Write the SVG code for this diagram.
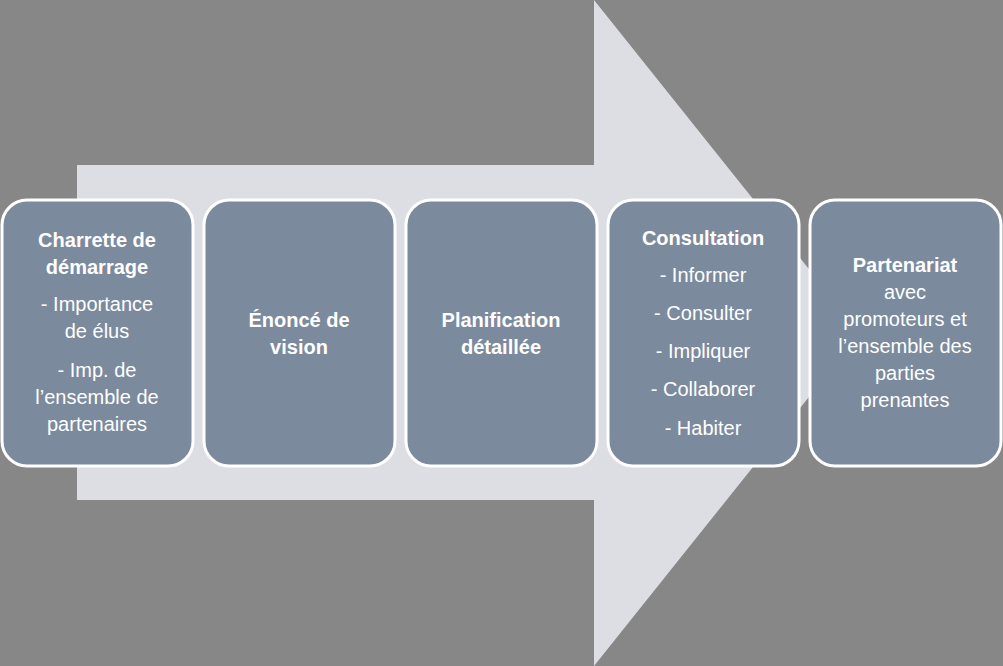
<svg xmlns="http://www.w3.org/2000/svg" width="1003" height="666" viewBox="0 0 1003 666">
<style>
.b{fill:#7b8a9d;stroke:#fff;stroke-width:3}
text{font-family:"Liberation Sans",Arial,sans-serif;font-size:20px;fill:#fff;text-anchor:middle}
.h{font-weight:bold}
</style>
<rect width="1003" height="666" fill="#878787"/>
<g id="arrow"><polygon points="77,165 594,165 594,0 860,333 594,666 594,500 77,500" fill="#dcdee3"/></g>
<g id="n1"><rect class="b" x="2" y="200" width="191" height="266" rx="25"/>
<text x="97" y="247" class="h">Charrette de</text><text x="97" y="274" class="h">démarrage</text>
<text x="97" y="311">- Importance</text><text x="97" y="338">de élus</text>
<text x="97" y="377">- Imp. de</text><text x="97" y="404">l’ensemble de</text><text x="97" y="431">partenaires</text></g>
<g id="n2"><rect class="b" x="204" y="200" width="191" height="266" rx="25"/>
<text x="299" y="327" class="h">Énoncé de</text><text x="299" y="354" class="h">vision</text></g>
<g id="n3"><rect class="b" x="406" y="200" width="191" height="266" rx="25"/>
<text x="501" y="327" class="h">Planification</text><text x="501" y="354" class="h">détaillée</text></g>
<g id="n4"><rect class="b" x="608" y="200" width="191" height="266" rx="25"/>
<text x="703" y="245" class="h">Consultation</text>
<text x="703" y="282">- Informer</text><text x="703" y="320">- Consulter</text>
<text x="703" y="358">- Impliquer</text><text x="703" y="396">- Collaborer</text><text x="703" y="435">- Habiter</text></g>
<g id="n5"><rect class="b" x="810" y="200" width="191" height="266" rx="25"/>
<text x="905" y="272" class="h">Partenariat</text><text x="905" y="299">avec</text>
<text x="905" y="326">promoteurs et</text><text x="905" y="353">l’ensemble des</text>
<text x="905" y="380">parties</text><text x="905" y="407">prenantes</text></g>
<g id="connectors"/>
</svg>
